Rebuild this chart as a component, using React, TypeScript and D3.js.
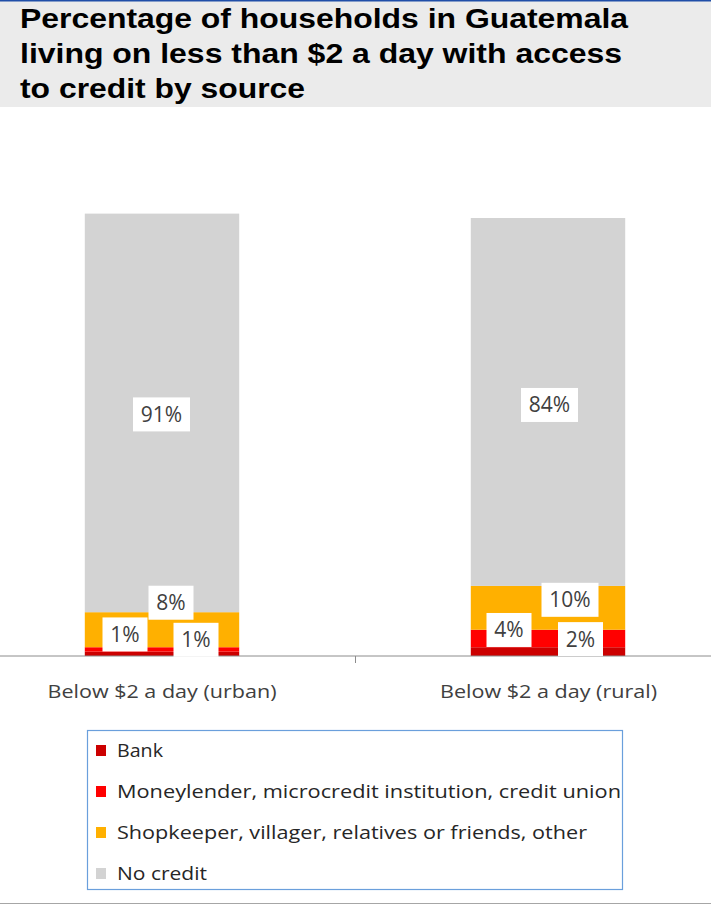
import React, { useLayoutEffect } from "react";
import * as d3 from "d3";

const titleLines = [
  "Percentage of households in Guatemala",
  "living on less than $2 a day with access",
  "to credit by source",
];
const categories = ["Below $2 a day (urban)", "Below $2 a day (rural)"];
const seriesNames = [
  "Bank",
  "Moneylender, microcredit institution, credit union",
  "Shopkeeper, villager, relatives or friends, other",
  "No credit",
];
const bank = [1, 2];
const moneylender = [1, 4];
const shopkeeper = [8, 10];
const noCredit = [91, 84];
const seriesColors = ["#cc0000", "#ff0000", "#ffb000", "#d3d3d3"];

// label placement offsets (layout): [series][category] -> [dx, dy]
const labelOffsets = [
  [[34, -14], [32.5, -12.5]],
  [[-37, -15], [-39, -8.5]],
  [[9, -27], [22, -8]],
  [[-0.5, 1.5], [1.5, 3]],
];

const W = 711;
const H = 905;
const axisY = 656;

export default function App() {
  useLayoutEffect(() => {
    document.body.style.margin = "0";
  }, []);

  const seriesValues = [bank, moneylender, shopkeeper, noCredit];
  const x = d3
    .scaleBand<string>()
    .domain(categories)
    .range([-31, 741])
    .paddingInner(0.6)
    .paddingOuter(0.3);
  const y = d3.scaleLinear().domain([0, 100]).range([axisY, 218]);

  const rows = categories.map((c, i) => {
    const r: any = { cat: c };
    seriesNames.forEach((s, k) => (r[s] = seriesValues[k][i]));
    return r;
  });
  const stacked = d3.stack<any>().keys(seriesNames)(rows);

  const legendTextLen = [46, 504, 470, 90];
  const titleLen = [608, 602, 285];
  const catLen = [229, 217];

  return (
    <svg width={W} height={H} style={{ display: "block" }}>
      <rect x={0} y={0} width={W} height={107} fill="#ebebeb" />
      <rect x={0} y={0} width={W} height={1.5} fill="#1f4ea8" />
      {titleLines.map((t, i) => (
        <text
          key={i}
          x={20}
          y={28 + i * 35}
          fontFamily="Liberation Sans, Arial, sans-serif"
          fontWeight="bold"
          fontSize={28}
          fill="#000"
          textLength={titleLen[i]}
          lengthAdjust="spacingAndGlyphs"
        >
          {t}
        </text>
      ))}

      {stacked.map((layer, k) =>
        layer.map((d, i) => (
          <rect
            key={`${k}-${i}`}
            x={x(categories[i])}
            y={y(d[1])}
            width={x.bandwidth()}
            height={y(d[0]) - y(d[1])}
            fill={seriesColors[k]}
          />
        ))
      )}

      <line x1={0} x2={W} y1={axisY} y2={axisY} stroke="#8c8c8c" strokeWidth={1} />
      <line x1={355.5} x2={355.5} y1={axisY} y2={axisY + 7} stroke="#8c8c8c" strokeWidth={1} />

      {stacked.map((layer, k) =>
        layer.map((d, i) => {
          const label = `${seriesValues[k][i]}%`;
          const cx = (x(categories[i]) as number) + x.bandwidth() / 2 + labelOffsets[k][i][0];
          const cy = (y(d[0]) + y(d[1])) / 2 + labelOffsets[k][i][1];
          const bw = label.length === 2 ? 45 : 57;
          const bh = 34;
          return (
            <g key={`l-${k}-${i}`}>
              <rect x={cx - bw / 2} y={cy - bh / 2} width={bw} height={bh} fill="#fff" />
              <text
                x={cx}
                y={cy + 7.5}
                textAnchor="middle"
                fontFamily="Open Sans, sans-serif"
                fontSize={21}
                fill="#404040"
              >
                {label}
              </text>
            </g>
          );
        })
      )}

      {categories.map((c, i) => (
        <text
          key={c}
          x={(x(c) as number) + x.bandwidth() / 2 + (i === 0 ? 0 : 0.5)}
          y={698}
          textAnchor="middle"
          fontFamily="Open Sans, sans-serif"
          fontSize={18}
          fill="#404040"
          textLength={catLen[i]}
          lengthAdjust="spacingAndGlyphs"
        >
          {c}
        </text>
      ))}

      <rect x={87.5} y={730.5} width={535} height={159} fill="#fff" stroke="#6a9fdc" strokeWidth={1.2} />
      {seriesNames.map((s, k) => (
        <g key={s}>
          <rect x={96} y={745 + k * 41} width={10} height={11} fill={seriesColors[k]} />
          <text
            x={117}
            y={757 + k * 41}
            fontFamily="Open Sans, sans-serif"
            fontSize={18.5}
            fill="#262626"
            textLength={legendTextLen[k]}
            lengthAdjust="spacingAndGlyphs"
          >
            {s}
          </text>
        </g>
      ))}

      <line x1={0} x2={W} y1={903.5} y2={903.5} stroke="#a6a6a6" strokeWidth={1} />
    </svg>
  );
}
